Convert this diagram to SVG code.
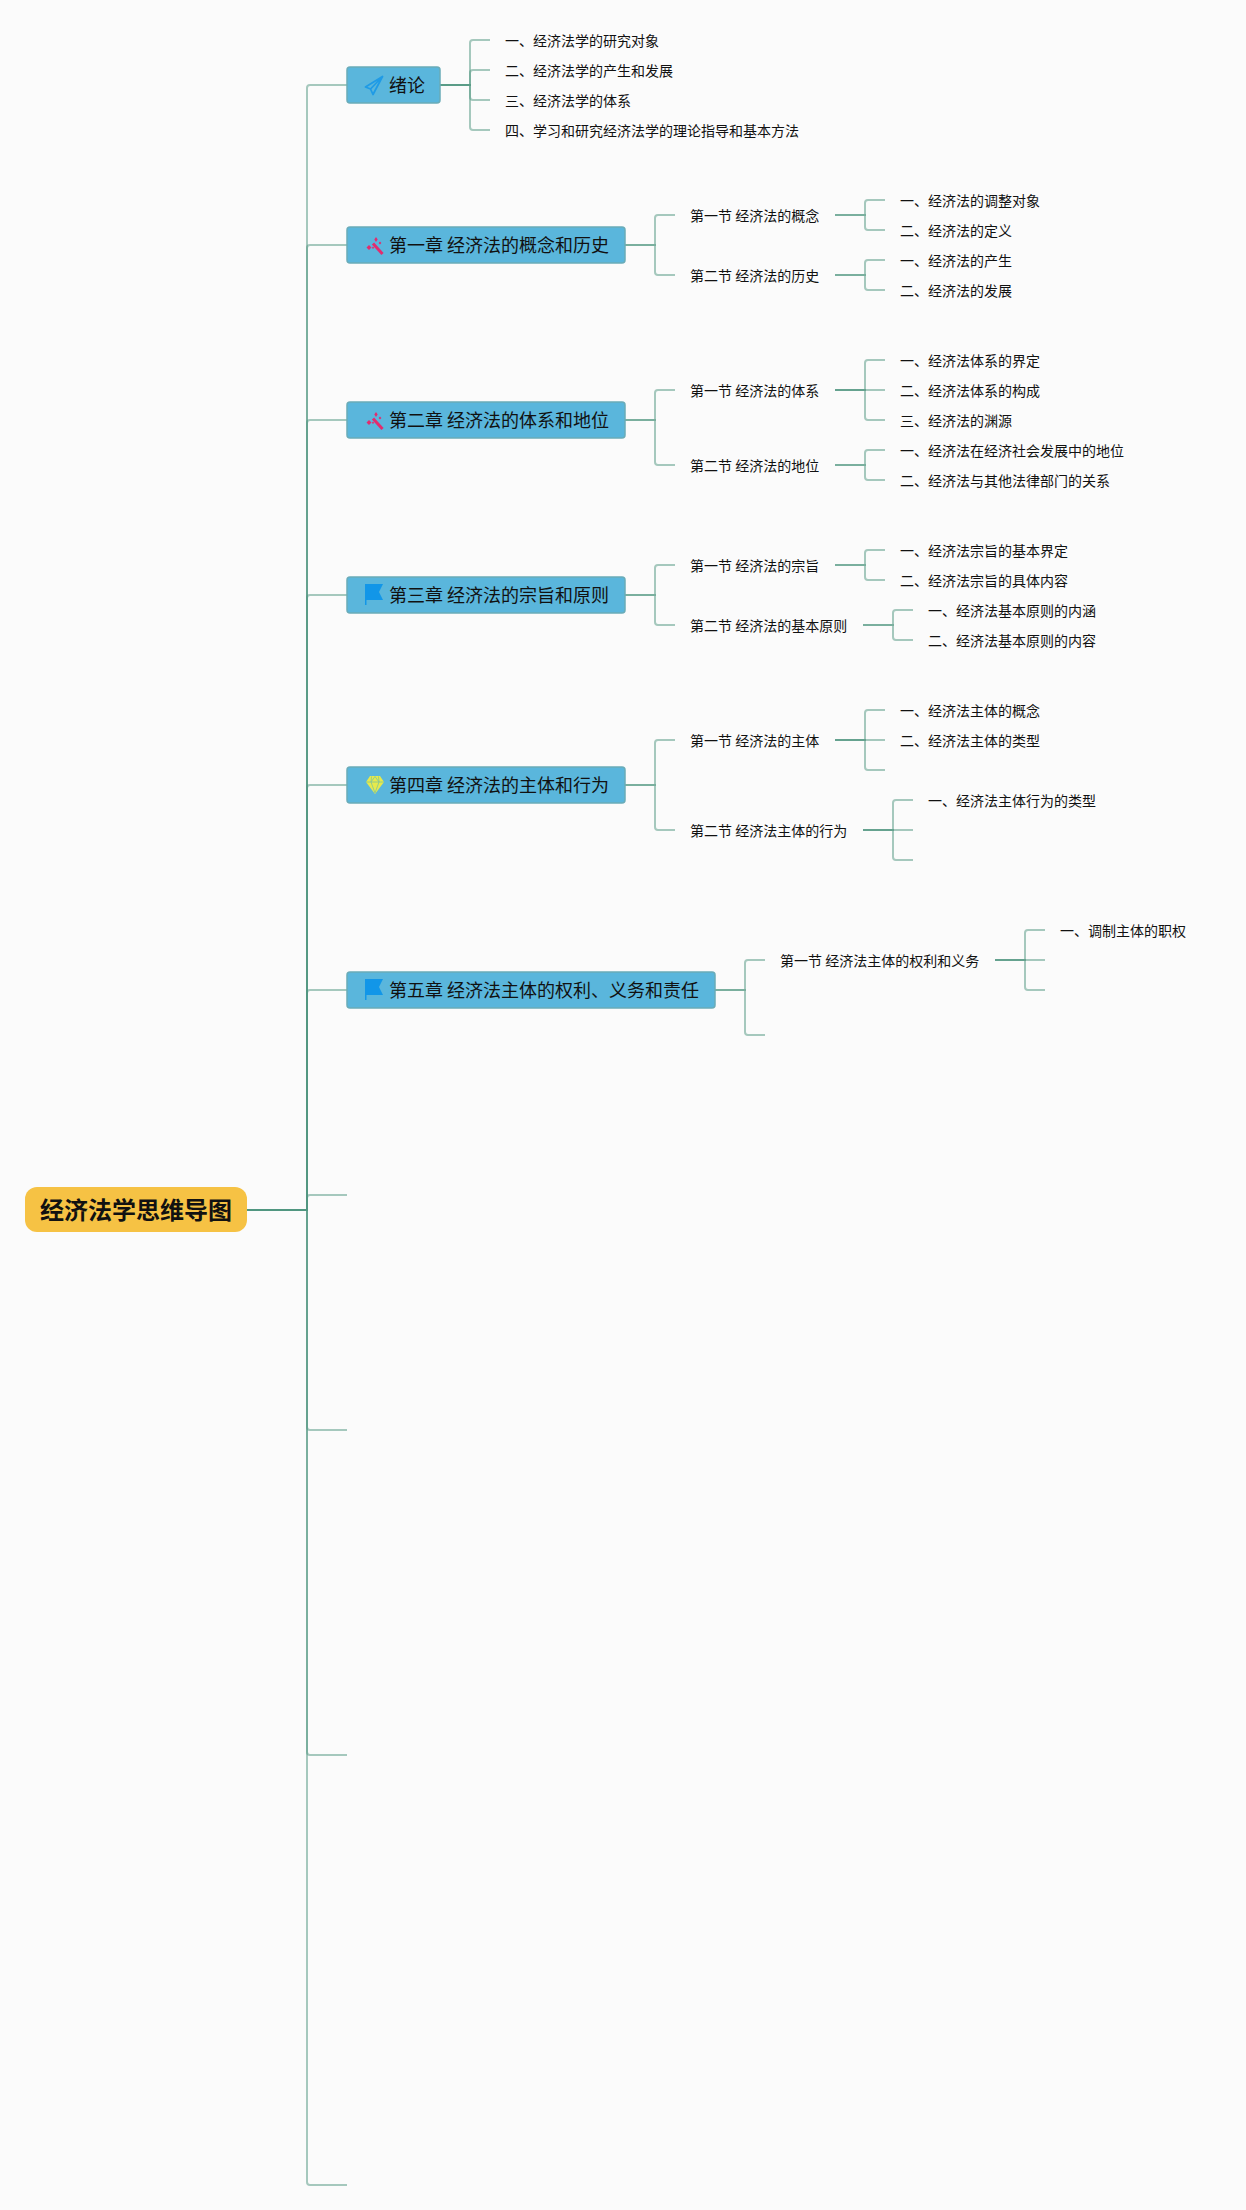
<svg xmlns="http://www.w3.org/2000/svg" width="1246" height="2210" viewBox="0 0 1246 2210">
<style>
text{font-family:"Noto Sans CJK SC","Noto Sans",sans-serif;fill:#111}
.c path,path.c{fill:none;stroke:#4f9580;stroke-width:2;stroke-opacity:.5}
.ch rect{fill:#5ab6dc;stroke:#6aacb8;stroke-width:1.5}
.ch text{font-size:18px}
.t text{font-size:14px}
</style>
<defs>
<g id="plane"><path d="M17.5 0.5 L0.5 11 L5.5 13 L8 18.5 Z M17.5 0.5 L5.5 13" fill="none" stroke="#1f9be6" stroke-width="1.8" stroke-linejoin="round"/></g>
<g id="wand"><path d="M7 6.5 L16.5 17" stroke="#e32c6e" stroke-width="3" fill="none"/><path d="M3 8 L5.5 10.5 L3 13 L0.5 10.5Z M10 0 L11.7 2.5 L10 5 L8.3 2.5Z M14 4.5 L15.4 6 L14 7.5 L12.6 6Z M7 9.5 L8.2 10.7 L7 11.9 L5.8 10.7Z" fill="#e32c6e"/></g>
<g id="flag"><path d="M0 0 H18 L14 8 L18 16 H1.5 V21 H0 Z" fill="#1296e8"/></g>
<g id="gem"><path d="M4 0 H14 L18 6 L9 18 L0 6 Z" fill="#e6ea4c"/><path d="M0 6 H18 M5.5 0.5 L5 6 L9 17 L13 6 L12.5 0.5 M5 6 L9 0.5 L13 6" fill="none" stroke="#7fc49a" stroke-width=".8"/></g>
</defs>
<rect width="1246" height="2210" fill="#fbfbfb"/>
<g id="connectors" class="c">
<path d="M247 1210H307V88Q307 85 310 85H347"/>
<path d="M247 1210H307V248Q307 245 310 245H347"/>
<path d="M247 1210H307V423Q307 420 310 420H347"/>
<path d="M247 1210H307V598Q307 595 310 595H347"/>
<path d="M247 1210H307V788Q307 785 310 785H347"/>
<path d="M247 1210H307V993Q307 990 310 990H347"/>
<path d="M247 1210H307V1198Q307 1195 310 1195H347"/>
<path d="M247 1210H307V1427Q307 1430 310 1430H347"/>
<path d="M247 1210H307V1752Q307 1755 310 1755H347"/>
<path d="M247 1210H307V2182Q307 2185 310 2185H347"/>
<path d="M440 85H470V43Q470 40 473 40H490"/>
<path d="M440 85H470V73Q470 70 473 70H490"/>
<path d="M440 85H470V97Q470 100 473 100H490"/>
<path d="M440 85H470V127Q470 130 473 130H490"/>
<path d="M625 245H655V218Q655 215 658 215H675"/>
<path d="M625 245H655V272Q655 275 658 275H675"/>
<path d="M835 215H865V203Q865 200 868 200H885"/>
<path d="M835 215H865V227Q865 230 868 230H885"/>
<path d="M835 275H865V263Q865 260 868 260H885"/>
<path d="M835 275H865V287Q865 290 868 290H885"/>
<path d="M625 420H655V393Q655 390 658 390H675"/>
<path d="M625 420H655V462Q655 465 658 465H675"/>
<path d="M835 390H865V363Q865 360 868 360H885"/>
<path d="M835 390H885"/>
<path d="M835 390H865V417Q865 420 868 420H885"/>
<path d="M835 465H865V453Q865 450 868 450H885"/>
<path d="M835 465H865V477Q865 480 868 480H885"/>
<path d="M625 595H655V568Q655 565 658 565H675"/>
<path d="M625 595H655V622Q655 625 658 625H675"/>
<path d="M835 565H865V553Q865 550 868 550H885"/>
<path d="M835 565H865V577Q865 580 868 580H885"/>
<path d="M863 625H893V613Q893 610 896 610H913"/>
<path d="M863 625H893V637Q893 640 896 640H913"/>
<path d="M625 785H655V743Q655 740 658 740H675"/>
<path d="M625 785H655V827Q655 830 658 830H675"/>
<path d="M835 740H865V713Q865 710 868 710H885"/>
<path d="M835 740H885"/>
<path d="M835 740H865V767Q865 770 868 770H885"/>
<path d="M863 830H893V803Q893 800 896 800H913"/>
<path d="M863 830H913"/>
<path d="M863 830H893V857Q893 860 896 860H913"/>
<path d="M715 990H745V963Q745 960 748 960H765"/>
<path d="M715 990H745V1032Q745 1035 748 1035H765"/>
<path d="M995 960H1025V933Q1025 930 1028 930H1045"/>
<path d="M995 960H1045"/>
<path d="M995 960H1025V987Q1025 990 1028 990H1045"/>
</g>
<g id="root"><rect x="25" y="1187" width="222" height="45" rx="12" fill="#f6c244"/><text x="40" y="1219" font-size="24" font-weight="700" fill="#000">经济法学思维导图</text></g>
<g id="intro" class="ch"><rect x="347" y="67" width="93" height="36" rx="3"/><use href="#plane" x="365" y="76"/><text x="389" y="92">绪论</text></g>
<g id="ch1" class="ch"><rect x="347" y="227" width="278" height="36" rx="3"/><use href="#wand" x="366" y="237"/><text x="389" y="252">第一章 经济法的概念和历史</text></g>
<g id="ch2" class="ch"><rect x="347" y="402" width="278" height="36" rx="3"/><use href="#wand" x="366" y="412"/><text x="389" y="427">第二章 经济法的体系和地位</text></g>
<g id="ch3" class="ch"><rect x="347" y="577" width="278" height="36" rx="3"/><use href="#flag" x="365" y="584"/><text x="389" y="602">第三章 经济法的宗旨和原则</text></g>
<g id="ch4" class="ch"><rect x="347" y="767" width="278" height="36" rx="3"/><use href="#gem" x="366" y="776"/><text x="389" y="792">第四章 经济法的主体和行为</text></g>
<g id="ch5" class="ch"><rect x="347" y="972" width="368" height="36" rx="3"/><use href="#flag" x="365" y="979"/><text x="389" y="997">第五章 经济法主体的权利、义务和责任</text></g>
<g id="intro-items" class="t">
<g id="n0-1"><text x="505" y="46">一、经济法学的研究对象</text></g>
<g id="n0-2"><text x="505" y="76">二、经济法学的产生和发展</text></g>
<g id="n0-3"><text x="505" y="106">三、经济法学的体系</text></g>
<g id="n0-4"><text x="505" y="136">四、学习和研究经济法学的理论指导和基本方法</text></g>
</g>
<g id="ch1-items" class="t">
<g id="s1-1"><text x="690" y="221">第一节 经济法的概念</text></g>
<g id="s1-2"><text x="690" y="281">第二节 经济法的历史</text></g>
<g id="n1-1"><text x="900" y="206">一、经济法的调整对象</text></g>
<g id="n1-2"><text x="900" y="236">二、经济法的定义</text></g>
<g id="n1-3"><text x="900" y="266">一、经济法的产生</text></g>
<g id="n1-4"><text x="900" y="296">二、经济法的发展</text></g>
</g>
<g id="ch2-items" class="t">
<g id="s2-1"><text x="690" y="396">第一节 经济法的体系</text></g>
<g id="s2-2"><text x="690" y="471">第二节 经济法的地位</text></g>
<g id="n2-1"><text x="900" y="366">一、经济法体系的界定</text></g>
<g id="n2-2"><text x="900" y="396">二、经济法体系的构成</text></g>
<g id="n2-3"><text x="900" y="426">三、经济法的渊源</text></g>
<g id="n2-4"><text x="900" y="456">一、经济法在经济社会发展中的地位</text></g>
<g id="n2-5"><text x="900" y="486">二、经济法与其他法律部门的关系</text></g>
</g>
<g id="ch3-items" class="t">
<g id="s3-1"><text x="690" y="571">第一节 经济法的宗旨</text></g>
<g id="s3-2"><text x="690" y="631">第二节 经济法的基本原则</text></g>
<g id="n3-1"><text x="900" y="556">一、经济法宗旨的基本界定</text></g>
<g id="n3-2"><text x="900" y="586">二、经济法宗旨的具体内容</text></g>
<g id="n3-3"><text x="928" y="616">一、经济法基本原则的内涵</text></g>
<g id="n3-4"><text x="928" y="646">二、经济法基本原则的内容</text></g>
</g>
<g id="ch4-items" class="t">
<g id="s4-1"><text x="690" y="746">第一节 经济法的主体</text></g>
<g id="s4-2"><text x="690" y="836">第二节 经济法主体的行为</text></g>
<g id="n4-1"><text x="900" y="716">一、经济法主体的概念</text></g>
<g id="n4-2"><text x="900" y="746">二、经济法主体的类型</text></g>
<g id="n4-3"><text x="928" y="806">一、经济法主体行为的类型</text></g>
</g>
<g id="ch5-items" class="t">
<g id="s5-1"><text x="780" y="966">第一节 经济法主体的权利和义务</text></g>
<g id="n5-1"><text x="1060" y="936">一、调制主体的职权</text></g>
</g>
</svg>
